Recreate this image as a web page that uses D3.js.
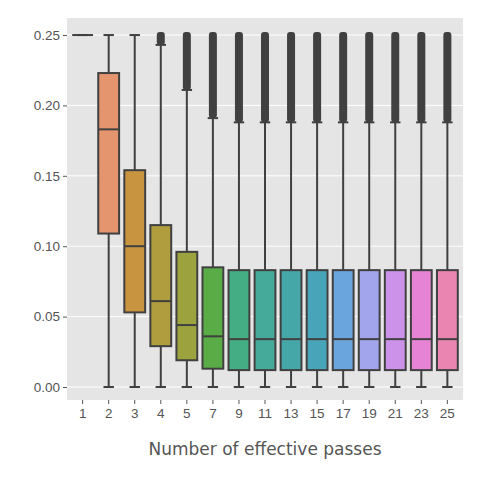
<!DOCTYPE html><html><head><script src="https://d3js.org/d3.v7.min.js"></script>
<style>body{margin:0;background:#fff}</style></head><body><script>
const cats=["1","2","3","4","5","7","9","11","13","15","17","19","21","23","25"];
const q1 =[0.25,0.109,0.053,0.029,0.019,0.013,0.012,0.012,0.012,0.012,0.012,0.012,0.012,0.012,0.012];
const med=[0.25,0.183,0.100,0.061,0.044,0.036,0.034,0.034,0.034,0.034,0.034,0.034,0.034,0.034,0.034];
const q3 =[0.25,0.223,0.154,0.115,0.096,0.085,0.083,0.083,0.083,0.083,0.083,0.083,0.083,0.083,0.083];
const wlo=[0.25,0,0,0,0,0,0,0,0,0,0,0,0,0,0];
const whi=[0.25,0.25,0.25,0.243,0.211,0.191,0.188,0.188,0.188,0.188,0.188,0.188,0.188,0.188,0.188];
const outMax=[0.25,0.25,0.25,0.25,0.25,0.25,0.25,0.25,0.25,0.25,0.25,0.25,0.25,0.25,0.25];
const colors=["#e8827f","#e5956e","#c9943f","#b09d3d","#9ba23e","#5aac46","#45ad83","#45aa99","#46a7a9","#47a4b9","#6aa6dd","#a3a5ec","#cc92ea","#e783d5","#e985b0"];
const yTicks=[0,0.05,0.1,0.15,0.2,0.25];
const W=480,H=480,L=67,R=463,T=18,B=400;
const svg=d3.select("body").append("svg").attr("width",W).attr("height",H).style("font-family","DejaVu Sans");
svg.append("rect").attr("x",L).attr("y",T).attr("width",R-L).attr("height",B-T).attr("fill","#e5e5e5");
const x=d3.scaleBand().domain(cats).range([L,R]).padding(0.2);
const y=d3.scaleLinear().domain([-0.00923,0.2621]).range([B,T]);
svg.selectAll(".g").data(yTicks).join("line").attr("x1",L).attr("x2",R).attr("y1",d=>y(d)).attr("y2",d=>y(d)).attr("stroke","#fff").attr("stroke-width",1);
const ya=svg.append("g").attr("transform",`translate(${L},0)`).call(d3.axisLeft(y).tickValues(yTicks).tickFormat(d3.format(".2f")).tickSize(4));
const xa=svg.append("g").attr("transform",`translate(0,${B})`).call(d3.axisBottom(x).tickSize(4));
[ya,xa].forEach(a=>{a.select(".domain").remove();a.selectAll("line").attr("stroke","#555");a.selectAll("text").attr("fill","#555").style("font-size","13.5px");});
xa.selectAll("text").attr("dy","0.85em");
svg.append("text").attr("x",(L+R)/2).attr("y",455).attr("text-anchor","middle").attr("fill","#555").style("font-size","17px").text("Number of effective passes");
const c="#404040",bw=x.bandwidth(),cx=i=>x(cats[i])+bw/2;
cats.forEach((k,i)=>{
  const g=svg.append("g");
  if(outMax[i]>whi[i]) g.append("rect").attr("x",cx(i)-4).attr("width",8).attr("y",y(outMax[i])-3).attr("height",y(whi[i])-y(outMax[i])+3).attr("fill",c).attr("rx",3);
  g.append("line").attr("x1",cx(i)).attr("x2",cx(i)).attr("y1",y(whi[i])).attr("y2",y(q3[i])).attr("stroke",c).attr("stroke-width",2);
  g.append("line").attr("x1",cx(i)).attr("x2",cx(i)).attr("y1",y(q1[i])).attr("y2",y(wlo[i])).attr("stroke",c).attr("stroke-width",2);
  [wlo[i],whi[i]].forEach(v=>g.append("line").attr("x1",cx(i)-bw/4).attr("x2",cx(i)+bw/4).attr("y1",y(v)).attr("y2",y(v)).attr("stroke",c).attr("stroke-width",2));
  g.append("rect").attr("x",x(k)).attr("width",bw).attr("y",y(q3[i])).attr("height",Math.max(0,y(q1[i])-y(q3[i]))).attr("fill",colors[i]).attr("stroke",c).attr("stroke-width",2);
  g.append("line").attr("x1",x(k)).attr("x2",x(k)+bw).attr("y1",y(med[i])).attr("y2",y(med[i])).attr("stroke",c).attr("stroke-width",2);
});
</script></body></html>
